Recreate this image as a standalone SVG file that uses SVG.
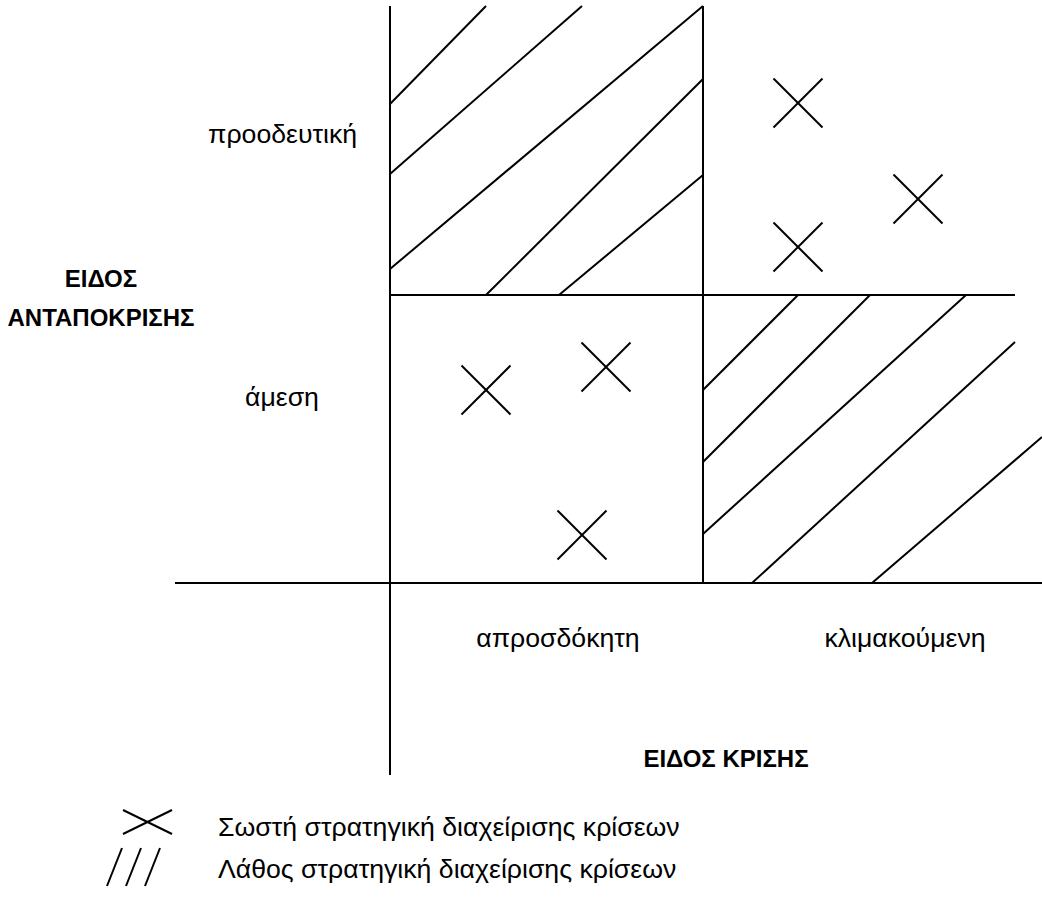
<svg xmlns="http://www.w3.org/2000/svg" width="1042" height="908" viewBox="0 0 1042 908">
<style>
.ln{stroke:#000;stroke-width:2;fill:none;stroke-linecap:butt}
.t{font-family:"Liberation Sans",Arial,sans-serif;font-size:26.67px;fill:#000}
.b{font-family:"Liberation Sans",Arial,sans-serif;font-size:24px;font-weight:bold;fill:#000}
</style>
<defs>
<g id="xmark" class="ln"><line x1="-24.5" y1="-24.5" x2="24.5" y2="24.5"/><line x1="-24.5" y1="24.5" x2="24.5" y2="-24.5"/></g>
</defs>
<rect width="1042" height="908" fill="#fff"/>
<g id="axes" class="ln">
<line x1="390" y1="6" x2="390" y2="775"/>
<line x1="703" y1="6" x2="703" y2="583"/>
<line x1="390" y1="295" x2="1015" y2="295"/>
<line x1="175" y1="583" x2="1042" y2="583"/>
</g>
<g id="hatch-top-left" class="ln">
<line x1="390" y1="104" x2="486" y2="6"/>
<line x1="390" y1="174" x2="582" y2="6"/>
<line x1="390" y1="269" x2="703" y2="6"/>
<line x1="486" y1="295" x2="703" y2="79"/>
<line x1="559" y1="295" x2="703" y2="175"/>
</g>
<g id="hatch-bottom-right" class="ln">
<line x1="703" y1="390" x2="798" y2="295"/>
<line x1="703" y1="462" x2="870" y2="295"/>
<line x1="703" y1="534" x2="966" y2="295"/>
<line x1="752" y1="583" x2="1015" y2="342"/>
<line x1="872" y1="583" x2="1042" y2="437"/>
</g>
<g id="crosses">
<use href="#xmark" x="486" y="390"/>
<use href="#xmark" x="606" y="367"/>
<use href="#xmark" x="582" y="535"/>
<use href="#xmark" x="798" y="103"/>
<use href="#xmark" x="918" y="199"/>
<use href="#xmark" x="798" y="247"/>
</g>
<g id="labels">
<text class="t" x="208" y="143">προοδευτική</text>
<text class="t" x="245" y="406">άμεση</text>
<text class="b" x="101" y="287" text-anchor="middle">ΕΙΔΟΣ</text>
<text class="b" x="101" y="326" text-anchor="middle">ΑΝΤΑΠΟΚΡΙΣΗΣ</text>
<text class="t" x="558" y="647" text-anchor="middle">απροσδόκητη</text>
<text class="t" x="905" y="647" text-anchor="middle">κλιμακούμενη</text>
<text class="b" x="726" y="767" text-anchor="middle">ΕΙΔΟΣ ΚΡΙΣΗΣ</text>
</g>
<g id="legend">
<g id="legend-x" class="ln"><line x1="123" y1="810" x2="172" y2="834"/><line x1="123" y1="834" x2="172" y2="810"/></g>
<g id="legend-hatch" class="ln"><line x1="107" y1="886" x2="122" y2="848"/><line x1="126" y1="886" x2="141" y2="848"/><line x1="145" y1="886" x2="160" y2="848"/></g>
<text class="t" x="218" y="836">Σωστή στρατηγική διαχείρισης κρίσεων</text>
<text class="t" x="218" y="878">Λάθος στρατηγική διαχείρισης κρίσεων</text>
</g>
</svg>
